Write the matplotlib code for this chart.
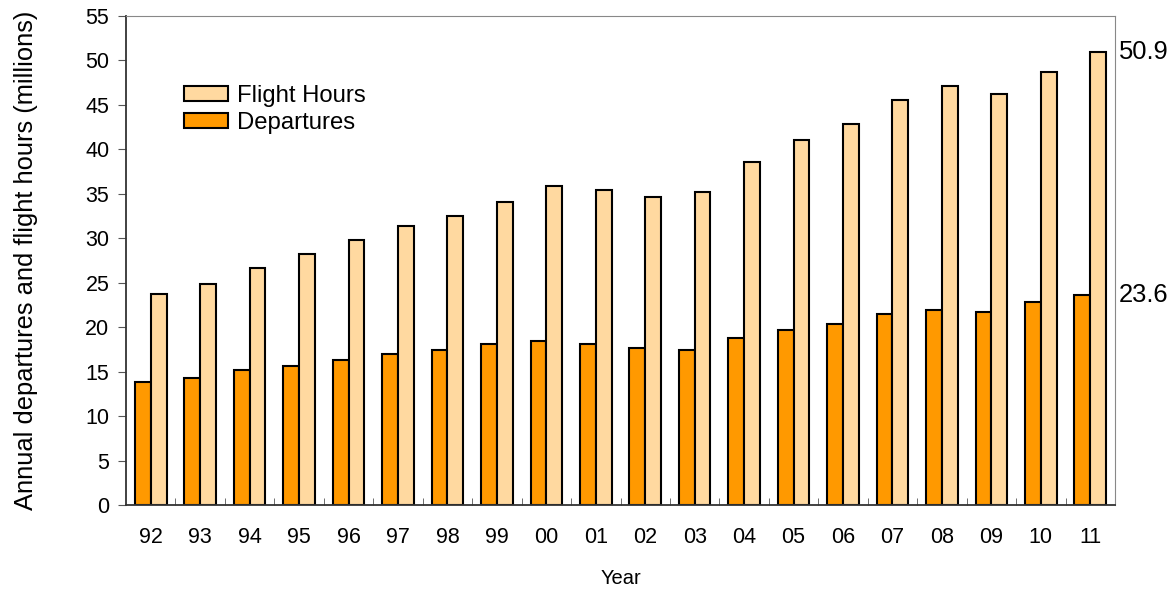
import numpy as np
import matplotlib
matplotlib.use('Agg')
import matplotlib.pyplot as plt

plt.rcParams['font.family'] = ['Liberation Sans', 'DejaVu Sans']

years = ['92', '93', '94', '95', '96', '97', '98', '99', '00', '01',
         '02', '03', '04', '05', '06', '07', '08', '09', '10', '11']
departures = [13.8, 14.3, 15.2, 15.6, 16.3, 17.0, 17.4, 18.1, 18.5, 18.1,
              17.7, 17.4, 18.8, 19.7, 20.4, 21.5, 21.9, 21.7, 22.8, 23.6]
flight_hours = [23.7, 24.9, 26.7, 28.2, 29.8, 31.4, 32.5, 34.1, 35.9, 35.4,
                34.6, 35.2, 38.6, 41.1, 42.9, 45.6, 47.1, 46.2, 48.7, 50.9]

fig = plt.figure(figsize=(11.71, 5.89), dpi=100)
ax = fig.add_axes([126 / 1171, 1 - 505 / 589, 989 / 1171, 489 / 589])

x = np.arange(len(years))
w = 0.32
b_dep = ax.bar(x - w / 2, departures, w, color='#ff9900', edgecolor='black', linewidth=1.5,
               label='Departures')
b_fh = ax.bar(x + w / 2, flight_hours, w, color='#ffd9a0', edgecolor='black', linewidth=1.5,
              label='Flight Hours')

ax.set_xlim(-0.5, len(years) - 0.5)
ax.set_ylim(0, 55)
ax.set_yticks(np.arange(0, 56, 5))
ax.set_xticks(x)
ax.set_xticklabels(years, fontsize=15.5)
ax.set_xticks(np.arange(0.5, len(years) - 1, 1), minor=True)
ax.tick_params(axis='x', which='major', length=0, pad=16)
ax.tick_params(axis='x', which='minor', direction='in', length=5, color='#555555')
ax.tick_params(axis='y', labelsize=15.5, length=6, pad=6, color='#555555')

for s in ['top', 'right']:
    ax.spines[s].set_color('#888888')
for s in ['left', 'bottom']:
    ax.spines[s].set_color('#333333')
    ax.spines[s].set_linewidth(1.3)

ax.set_xlabel('Year', fontsize=14.5, labelpad=15)
ax.set_ylabel('Annual departures and flight hours (millions)', fontsize=18.4, labelpad=34)

ax.annotate('%.1f' % flight_hours[-1], xy=(1.0, flight_hours[-1]), xycoords=('axes fraction', 'data'),
            xytext=(3, 0), textcoords='offset points', va='center', fontsize=18.4)
ax.annotate('%.1f' % departures[-1], xy=(1.0, departures[-1]), xycoords=('axes fraction', 'data'),
            xytext=(3, 0), textcoords='offset points', va='center', fontsize=18.4)

ax.legend(handles=[b_fh, b_dep], loc='upper left', bbox_to_anchor=(0.0586, 0.859), frameon=False,
          fontsize=17.2, handlelength=1.86, handleheight=0.6, labelspacing=0.2, handletextpad=0.34,
          borderpad=0, borderaxespad=0)

fig.savefig('out.png', dpi=100)
